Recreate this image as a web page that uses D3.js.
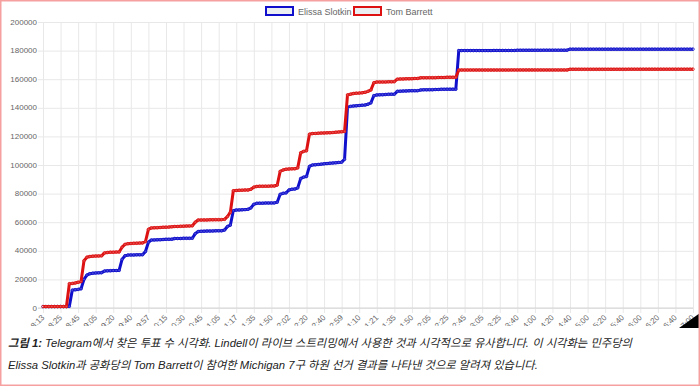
<!DOCTYPE html>
<html>
<head>
<meta charset="utf-8">
<title>Michigan 7</title>
<script src="https://d3js.org/d3.v7.min.js"></script>
<style>
body { margin: 0; background: #fff; }
svg { display: block; font-family: "Liberation Sans", Arial, "Noto Sans CJK KR", sans-serif; }
.grid line { stroke: #e8e8e8; stroke-width: 1; }
.tick-label { fill: #666; font-size: 8px; }
.line { fill: none; stroke-width: 3; stroke-linejoin: round; }
.caption { font-size: 11.3px; font-style: italic; fill: #222; }
</style>
</head>
<body>
<div id="chart"></div>

<script>

// x-axis labels that are shown (every 6th report)
var tickLabels = ["8:13", "8:25", "8:45", "9:05", "9:20", "9:40", "9:57", "10:15", "10:30", "10:45",
  "11:05", "11:17", "11:35", "11:50", "12:02", "12:20", "12:40", "12:59", "1:10", "1:21",
  "1:35", "1:50", "2:05", "2:25", "2:45", "3:05", "3:25", "3:40", "4:00", "4:20",
  "4:40", "5:00", "5:20", "5:40", "6:00", "6:20", "6:40", "7:00"];

var seriesNames = ["Elissa Slotkin", "Tom Barrett"];

// vote counts per report
var slotkin = [
  1000, 1000, 1000, 1000, 1000, 1000, 1000, 1000, 1000, 1200,
  12500, 12800, 13000, 13500, 20000, 23000, 24000, 24300, 24500, 24600,
  24700, 25800, 26000, 26100, 26200, 26200, 26300, 34000, 36500, 37000,
  37100, 37100, 37200, 37200, 37300, 39500, 46000, 47500, 47600, 47700,
  47800, 47900, 48000, 48000, 48100, 48600, 48600, 48600, 48700, 48700,
  48700, 48800, 52000, 53500, 53600, 53700, 53800, 53800, 53900, 54000,
  54000, 54000, 54500, 57000, 58000, 68000, 68500, 68600, 68700, 68800,
  69000, 70000, 72500, 73200, 73300, 73300, 73400, 73400, 73500, 73500,
  74000, 79500, 80200, 80500, 82500, 83000, 83200, 84000, 90500, 91500,
  92000, 99000, 100000, 100200, 100400, 100600, 100800, 101000, 101200, 101400,
  101600, 101800, 102000, 104000, 140500, 141000, 141200, 141400, 141600, 141800,
  142000, 142500, 143500, 148500, 149000, 149100, 149200, 149300, 149400, 149500,
  149500, 151500, 151600, 151700, 151800, 151900, 152000, 152000, 152000, 152500,
  152600, 152600, 152700, 152700, 152800, 152800, 152900, 152900, 153000, 153000,
  153000, 153000, 180000, 180000, 180000, 180000, 180000, 180000, 180000, 180000,
  180000, 180000, 180000, 180000, 180100, 180100, 180100, 180100, 180100, 180100,
  180100, 180100, 180200, 180200, 180200, 180200, 180200, 180200, 180200, 180200,
  180200, 180300, 180300, 180300, 180300, 180300, 180300, 180300, 180300, 180300,
  181000, 181000, 181000, 181000, 181000, 181000, 181000, 181000, 181000, 181000,
  181000, 181000, 181000, 181000, 181000, 181000, 181000, 181000, 181000, 181000,
  181000, 181000, 181000, 181000, 181000, 181000, 181000, 181000, 181000, 181000,
  181000, 181000, 181000, 181000, 181000, 181000, 181000, 181000, 181000, 181000,
  181000, 181000, 181000
];

var barrett = [
  1000, 1000, 1000, 1000, 1000, 1000, 1000, 1000, 1000, 17000,
  17200, 17500, 18000, 18500, 33000, 35500, 36000, 36200, 36300, 36400,
  36500, 38500, 38800, 39000, 39000, 39100, 39200, 42500, 44500, 45000,
  45100, 45200, 45300, 45400, 45500, 46500, 55000, 56000, 56100, 56200,
  56300, 56400, 56500, 56600, 56800, 57000, 57000, 57100, 57200, 57300,
  57400, 57500, 60000, 61500, 61500, 61600, 61600, 61700, 61700, 61800,
  61800, 61800, 62000, 64000, 67000, 82000, 82200, 82300, 82400, 82500,
  82500, 83000, 84500, 85000, 85100, 85100, 85200, 85200, 85300, 85300,
  86000, 95500, 96500, 97000, 97200, 97300, 97400, 98000, 108500, 109500,
  110000, 121500, 122000, 122100, 122200, 122300, 122400, 122500, 122600, 122700,
  122900, 123100, 123300, 123500, 149000, 149500, 150000, 150200, 150300, 150500,
  150800, 151500, 152500, 157500, 158000, 158000, 158100, 158100, 158200, 158200,
  158300, 160000, 160200, 160200, 160300, 160300, 160400, 160500, 160500, 161000,
  161000, 161000, 161100, 161100, 161100, 161200, 161200, 161200, 161300, 161300,
  161300, 161300, 166400, 166400, 166400, 166400, 166400, 166400, 166400, 166400,
  166400, 166400, 166400, 166400, 166400, 166400, 166400, 166400, 166400, 166400,
  166500, 166500, 166500, 166500, 166500, 166500, 166500, 166500, 166500, 166500,
  166500, 166500, 166500, 166500, 166500, 166500, 166500, 166500, 166500, 166500,
  166900, 166900, 166900, 166900, 166900, 166900, 166900, 166900, 166900, 166900,
  166900, 166900, 166900, 166900, 166900, 166900, 166900, 166900, 166900, 166900,
  167000, 167000, 167000, 167000, 167000, 167000, 167000, 167000, 167000, 167000,
  167000, 167000, 167000, 167000, 167000, 167000, 167000, 167000, 167000, 167000,
  167000, 167000, 167000
];

var yTicks = [0, 20000, 40000, 60000, 80000, 100000, 120000, 140000, 160000, 180000, 200000];

var colors = ["#1010cc", "#dd1111"];

var W = 700, H = 386;
var margin = {top: 22, right: 7, bottom: 78, left: 43};
var width = W - margin.left - margin.right,
    height = H - margin.top - margin.bottom;

var N = slotkin.length;
var every = (N - 1) / (tickLabels.length - 1);

var svg = d3.select("#chart").append("svg")
    .attr("width", W)
    .attr("height", H);

var g = svg.append("g")
    .attr("transform", "translate(" + margin.left + "," + margin.top + ")");

var xScale = d3.scaleLinear().domain([0, N - 1]).range([0, width]);
var yScale = d3.scaleLinear().domain([0, 200000]).range([height, 0]);

// horizontal grid + y labels
g.append("g")
    .attr("class", "grid")
    .call(d3.axisLeft(yScale).tickValues(yTicks).tickSize(-width - 5).tickFormat(""))
    .attr("transform", "translate(-5,0)")
    .call(function(s) { s.select(".domain").remove(); });

g.selectAll(".ylab")
    .data(yTicks)
  .enter().append("text")
    .attr("class", "tick-label")
    .attr("x", -6)
    .attr("y", function(d) { return yScale(d); })
    .attr("dy", "0.33em")
    .attr("text-anchor", "end")
    .text(function(d) { return d; });

// vertical grid
var xTickIdx = d3.range(0, N, every);
g.append("g")
    .attr("class", "grid")
    .call(d3.axisBottom(xScale).tickValues(xTickIdx).tickSize(height + 5).tickFormat(""))
    .call(function(s) { s.select(".domain").remove(); });

g.append("line")
    .attr("x1", -5).attr("x2", width)
    .attr("y1", height).attr("y2", height)
    .attr("stroke", "#d4d4d4");

// x labels, rotated, cut off by the caption
svg.append("clipPath").attr("id", "xclip")
  .append("rect").attr("x", 0).attr("y", 0).attr("width", W).attr("height", 326);

g.append("g")
    .attr("clip-path", "url(#xclip)")
    .attr("transform", "translate(" + (-margin.left) + "," + (-margin.top) + ")")
  .selectAll("text")
    .data(xTickIdx)
  .enter().append("text")
    .attr("class", "tick-label")
    .attr("text-anchor", "end")
    .attr("transform", function(d) {
      return "translate(" + (margin.left + xScale(d) + 2) + "," + (margin.top + height + 10) + ") rotate(-45)";
    })
    .text(function(d, i) { return tickLabels[i]; });

// lines + points
var line = d3.line()
    .x(function(d, i) { return xScale(i); })
    .y(function(d) { return yScale(d); });

[slotkin, barrett].forEach(function(series, k) {
  g.append("path")
      .datum(series)
      .attr("class", "line")
      .attr("stroke", colors[k])
      .attr("d", line);

  g.selectAll(".dot" + k)
      .data(series)
    .enter().append("circle")
      .attr("class", "dot" + k)
      .attr("cx", function(d, i) { return xScale(i); })
      .attr("cy", function(d) { return yScale(d); })
      .attr("r", 1.3)
      .attr("fill", "#ffffff")
      .attr("fill-opacity", 0.25)
      .attr("stroke", colors[k])
      .attr("stroke-width", 0.8);
});

// legend
var legendX = [266, 354];
seriesNames.forEach(function(name, k) {
  svg.append("rect")
      .attr("x", legendX[k]).attr("y", 7)
      .attr("width", 27).attr("height", 8)
      .attr("fill", "#eceff2")
      .attr("stroke", colors[k])
      .attr("stroke-width", 2);
  svg.append("text")
      .attr("x", legendX[k] + 32).attr("y", 14.5)
      .attr("fill", "#666")
      .style("font-size", "9px")
      .text(name);
});

// little black corner
svg.append("path")
    .attr("d", "M679,328 L700,313 L700,328 Z")
    .attr("fill", "#000");

// caption
var cap = svg.append("text").attr("class", "caption").attr("x", 8).attr("y", 347);
cap.append("tspan").style("font-weight", "bold").text("그림 1: ");
cap.append("tspan").text("Telegram에서 찾은 투표 수 시각화. Lindell이 라이브 스트리밍에서 사용한 것과 시각적으로 유사합니다. 이 시각화는 민주당의");
svg.append("text").attr("class", "caption").attr("x", 8).attr("y", 369)
    .text("Elissa Slotkin과 공화당의 Tom Barrett이 참여한 Michigan 7구 하원 선거 결과를 나타낸 것으로 알려져 있습니다.");

// pink frame
svg.append("rect")
    .attr("x", 0.75).attr("y", 0.75)
    .attr("width", W - 1.5).attr("height", H - 1.5)
    .attr("fill", "none")
    .attr("stroke", "#f6a0a0")
    .attr("stroke-width", 1.5);

</script>
</body>
</html>
